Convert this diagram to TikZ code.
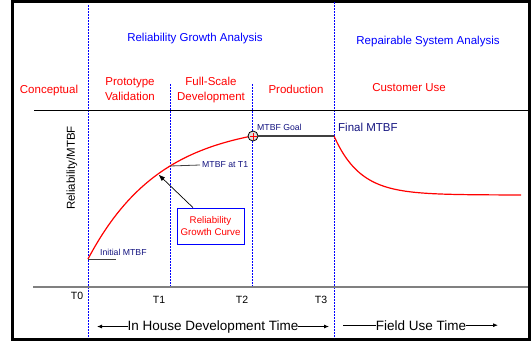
\documentclass[tikz,border=0pt]{standalone}
\usepackage{fontspec}
\setmainfont{Liberation Sans}
\usetikzlibrary{arrows.meta}
\definecolor{mtbfnavy}{RGB}{20,20,128}

\begin{document}
\begin{tikzpicture}[x=1pt, y=-1pt, every node/.style={inner sep=0pt, font=\fontsize{11.5}{15}\selectfont}]
    \useasboundingbox (0,0) rectangle (532,341);
    \draw[line width=3pt] (12.5,1.5) rectangle (529.5,339.5);

    \foreach \x/\ya/\yb in {88/5/338, 170/84/287, 252/84/287, 334/2/338} {
        \draw[blue, line width=0.7pt, dash pattern=on 2pt off 1pt] (\x,\ya) -- (\x,\yb);
    }
    \draw[black, line width=1pt] (34,110) -- (528,110);
    \draw[gray, line width=2pt] (33,287) -- (528,287);

    \node[blue, anchor=base] (rga) at (195,41) {Reliability Growth Analysis};
    \node[blue, anchor=base] (rsa) at (428,44) {Repairable System Analysis};

    \node[red, anchor=base] (concept) at (49,93) {Conceptual};
    \node[red, anchor=base, align=center] (proto) at (130,100) {Prototype\\Validation};
    \node[red, anchor=base, align=center] (fullscale) at (211,100) {Full-Scale\\Development};
    \node[red, anchor=base] (production) at (296,93) {Production};
    \node[red, anchor=base] (customer) at (409,91) {Customer Use};

    \node[rotate=90] (ylabel) at (72,168) {Reliability/MTBF};

    \draw[red, line width=1.2pt] plot[domain=88:253, samples=60, smooth] (\x, {121.7+137.3*exp(-0.0138*(\x-88))});
    \draw[red, line width=1.2pt] plot[domain=334:521, samples=60, smooth] (\x, {195-59*exp(-0.0383*(\x-334))});

    \coordinate (finalpt) at (334,136);
    \node[circle, draw, fill=gray!25, line width=0.8pt, minimum size=10pt] (goal) at (253,136) {};
    \draw[darkgray, line width=1.2pt] (goal.east) -- (finalpt);
    \draw[red, line width=1pt] ([xshift=-3.5pt]goal.center) -- ([xshift=3.5pt]goal.center);
    \draw[red, line width=1pt] ([yshift=-3.5pt]goal.center) -- ([yshift=3.5pt]goal.center);

    \coordinate (initpt) at (88,259);
    \draw[darkgray, line width=0.8pt] (initpt) -- ++(28,0);
    \node[mtbfnavy, font=\fontsize{8.7}{10}\selectfont, anchor=base west] (initlbl) at (100,255) {Initial MTBF};

    \coordinate (t1pt) at (170,166);
    \node[mtbfnavy, font=\fontsize{8.7}{10}\selectfont, anchor=west, inner sep=2pt] (t1lbl) at (200,165) {MTBF at T1};
    \draw[darkgray, line width=0.8pt] (t1pt) -- (t1lbl.west);

    \node[mtbfnavy, font=\fontsize{8.7}{10}\selectfont, anchor=base west] (goallbl) at (257,130) {MTBF Goal};
    \node[mtbfnavy, anchor=base west] (finallbl) at (338,131) {Final MTBF};

    \node[draw=blue, line width=0.8pt, fill=white, text=red, align=center, minimum width=67pt, minimum height=36pt, font=\fontsize{9.7}{12}\selectfont] (growthbox) at (210.5,226) {Reliability\\Growth Curve};
    \coordinate (curvept) at (159,175);
    \draw[-{Triangle[length=6pt,width=4.5pt]}, line width=0.7pt] ([xshift=-17.5pt]growthbox.north) -- (curvept);

    \foreach \t/\x/\y in {0/77/299, 1/159/303, 2/242/303, 3/321/303} {
        \node[font=\fontsize{10.5}{12}\selectfont, anchor=base] (tick\t) at (\x,\y) {T\t};
    }

    \node[font=\fontsize{13.5}{15}\selectfont, anchor=base] (inhouse) at (213,330) {In House Development Time};
    \coordinate (devstart) at (97,326);
    \coordinate (devend) at (329,326);
    \draw[-{Latex[length=5pt,width=4pt]}, line width=0.8pt] (inhouse.west) -- (inhouse.west -| devstart);
    \draw[-{Latex[length=5pt,width=4pt]}, line width=0.8pt] (inhouse.east) -- (inhouse.east -| devend);

    \node[font=\fontsize{13.5}{15}\selectfont, anchor=base] (fielduse) at (421,330) {Field Use Time};
    \coordinate (fieldstart) at (343,326);
    \coordinate (fieldend) at (498,326);
    \draw[line width=0.8pt] (fielduse.west -| fieldstart) -- (fielduse.west);
    \draw[-{Latex[length=5pt,width=4pt]}, line width=0.8pt] (fielduse.east) -- (fielduse.east -| fieldend);
\end{tikzpicture}
\end{document}
